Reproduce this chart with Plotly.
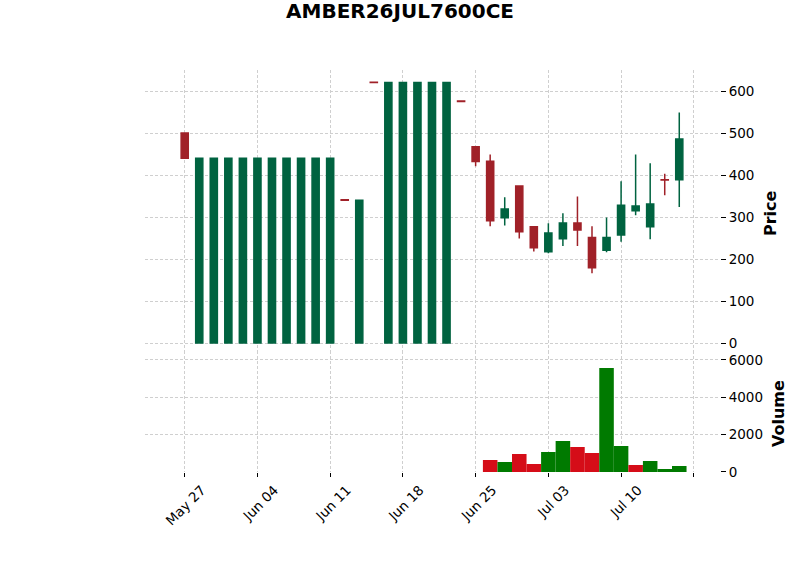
import plotly.graph_objects as go

title = "AMBER26JUL7600CE"

dates = ["May 27", "May 28", "May 29", "May 30", "May 31", "Jun 04", "Jun 05", "Jun 06",
         "Jun 07", "Jun 10", "Jun 11", "Jun 12", "Jun 13", "Jun 14", "Jun 17", "Jun 18",
         "Jun 19", "Jun 20", "Jun 21", "Jun 24", "Jun 25", "Jun 26", "Jun 27", "Jun 28",
         "Jul 02", "Jul 03", "Jul 04", "Jul 05", "Jul 08", "Jul 09", "Jul 10", "Jul 11",
         "Jul 12", "Jul 15", "Jul 16"]

opens = [500] + [0] * 10 + [341, 0, 621] + [0] * 5 + [576,
         467, 433, 298, 374, 277, 217, 248, 286, 251, 221, 257, 315, 277, 389, 389]
highs = [500] + [440] * 10 + [341, 340, 621] + [620] * 5 + [576,
         467, 449, 347, 374, 277, 285, 309, 349, 278, 299, 385, 449, 428, 403, 549]
lows = [440] + [0] * 10 + [340, 0, 620] + [0] * 5 + [575,
        421, 278, 280, 249, 218, 214, 231, 231, 166, 216, 241, 304, 247, 352, 324]
closes = [440] + [440] * 10 + [340, 340, 620] + [620] * 5 + [575,
          432, 291, 319, 265, 227, 262, 286, 269, 179, 251, 328, 326, 331, 388, 486]
volumes = [0] * 21 + [643, 536, 964, 429, 1071, 1661, 1339, 1018, 5571, 1393, 375, 589, 161, 321]

price_ticks = [0, 100, 200, 300, 400, 500, 600]
volume_ticks = [0, 2000, 4000, 6000]

UP, DOWN = "#006340", "#A02128"
VUP, VDOWN = "#007a00", "#d50d18"

idx = list(range(len(dates)))
vol_colors = []
for i in idx:
    ref = closes[i - 1] if i > 0 else opens[i]
    vol_colors.append(VUP if closes[i] >= ref else VDOWN)

tickvals = list(range(0, len(dates) + 1, 5))
ticktext = [dates[t] if t < len(dates) else "" for t in tickvals]

fig = go.Figure()
fig.add_trace(go.Candlestick(
    x=idx, open=opens, high=highs, low=lows, close=closes,
    increasing=dict(line=dict(color=UP, width=1.5), fillcolor=UP),
    decreasing=dict(line=dict(color=DOWN, width=1.5), fillcolor=DOWN),
    xaxis="x", yaxis="y", showlegend=False,
))
fig.add_trace(go.Bar(
    x=idx, y=volumes, marker=dict(color=vol_colors, line=dict(width=0)),
    width=1.0, xaxis="x2", yaxis="y2", showlegend=False,
))

grid = dict(showgrid=True, gridcolor="#cfcfcf", griddash="3px,2px", gridwidth=1, zeroline=False,
            showline=False)
xr = [-2.73, 36.8]
tf = dict(size=13.5)

fig.update_layout(
    width=800, height=575,
    margin=dict(l=145, r=80, t=70, b=103),
    paper_bgcolor="white", plot_bgcolor="white",
    font=dict(family="DejaVu Sans", size=13.5, color="black"),
    title=dict(text="<b>" + title + "</b>", x=0.5, xanchor="center", y=1 - 11 / 575,
               yanchor="middle", yref="container", font=dict(size=20)),
    boxgap=0.3,
    xaxis=dict(domain=[0, 1], range=xr, anchor="y", tickvals=tickvals, ticktext=ticktext,
               showticklabels=False, ticks="", rangeslider=dict(visible=False), **grid),
    xaxis2=dict(domain=[0, 1], range=xr, anchor="y2", matches="x", tickvals=tickvals,
                ticktext=ticktext, tickangle=-45, ticks="outside", ticklen=4, tickcolor="black",
                ticklabelshift=17, tickfont=tf, **grid),
    yaxis=dict(domain=[0.301, 1], range=[-19, 650], side="right", tickvals=price_ticks,
               ticks="outside", ticklen=5, tickcolor="black", tickfont=tf, **grid),
    yaxis2=dict(domain=[0, 0.301], range=[0, 6480], side="right", tickvals=volume_ticks,
                ticks="outside", ticklen=5, tickcolor="black", tickfont=tf, **grid),
    annotations=[
        dict(text="<b>Price</b>", xref="paper", yref="paper", x=(770 - 145) / 575,
             y=(472 - 213) / 402, textangle=-90, showarrow=False, font=dict(size=16),
             xanchor="center", yanchor="middle"),
        dict(text="<b>Volume</b>", xref="paper", yref="paper", x=(778 - 145) / 575,
             y=(472 - 414) / 402, textangle=-90, showarrow=False, font=dict(size=16),
             xanchor="center", yanchor="middle"),
    ],
)

fig.write_html("out.html")
